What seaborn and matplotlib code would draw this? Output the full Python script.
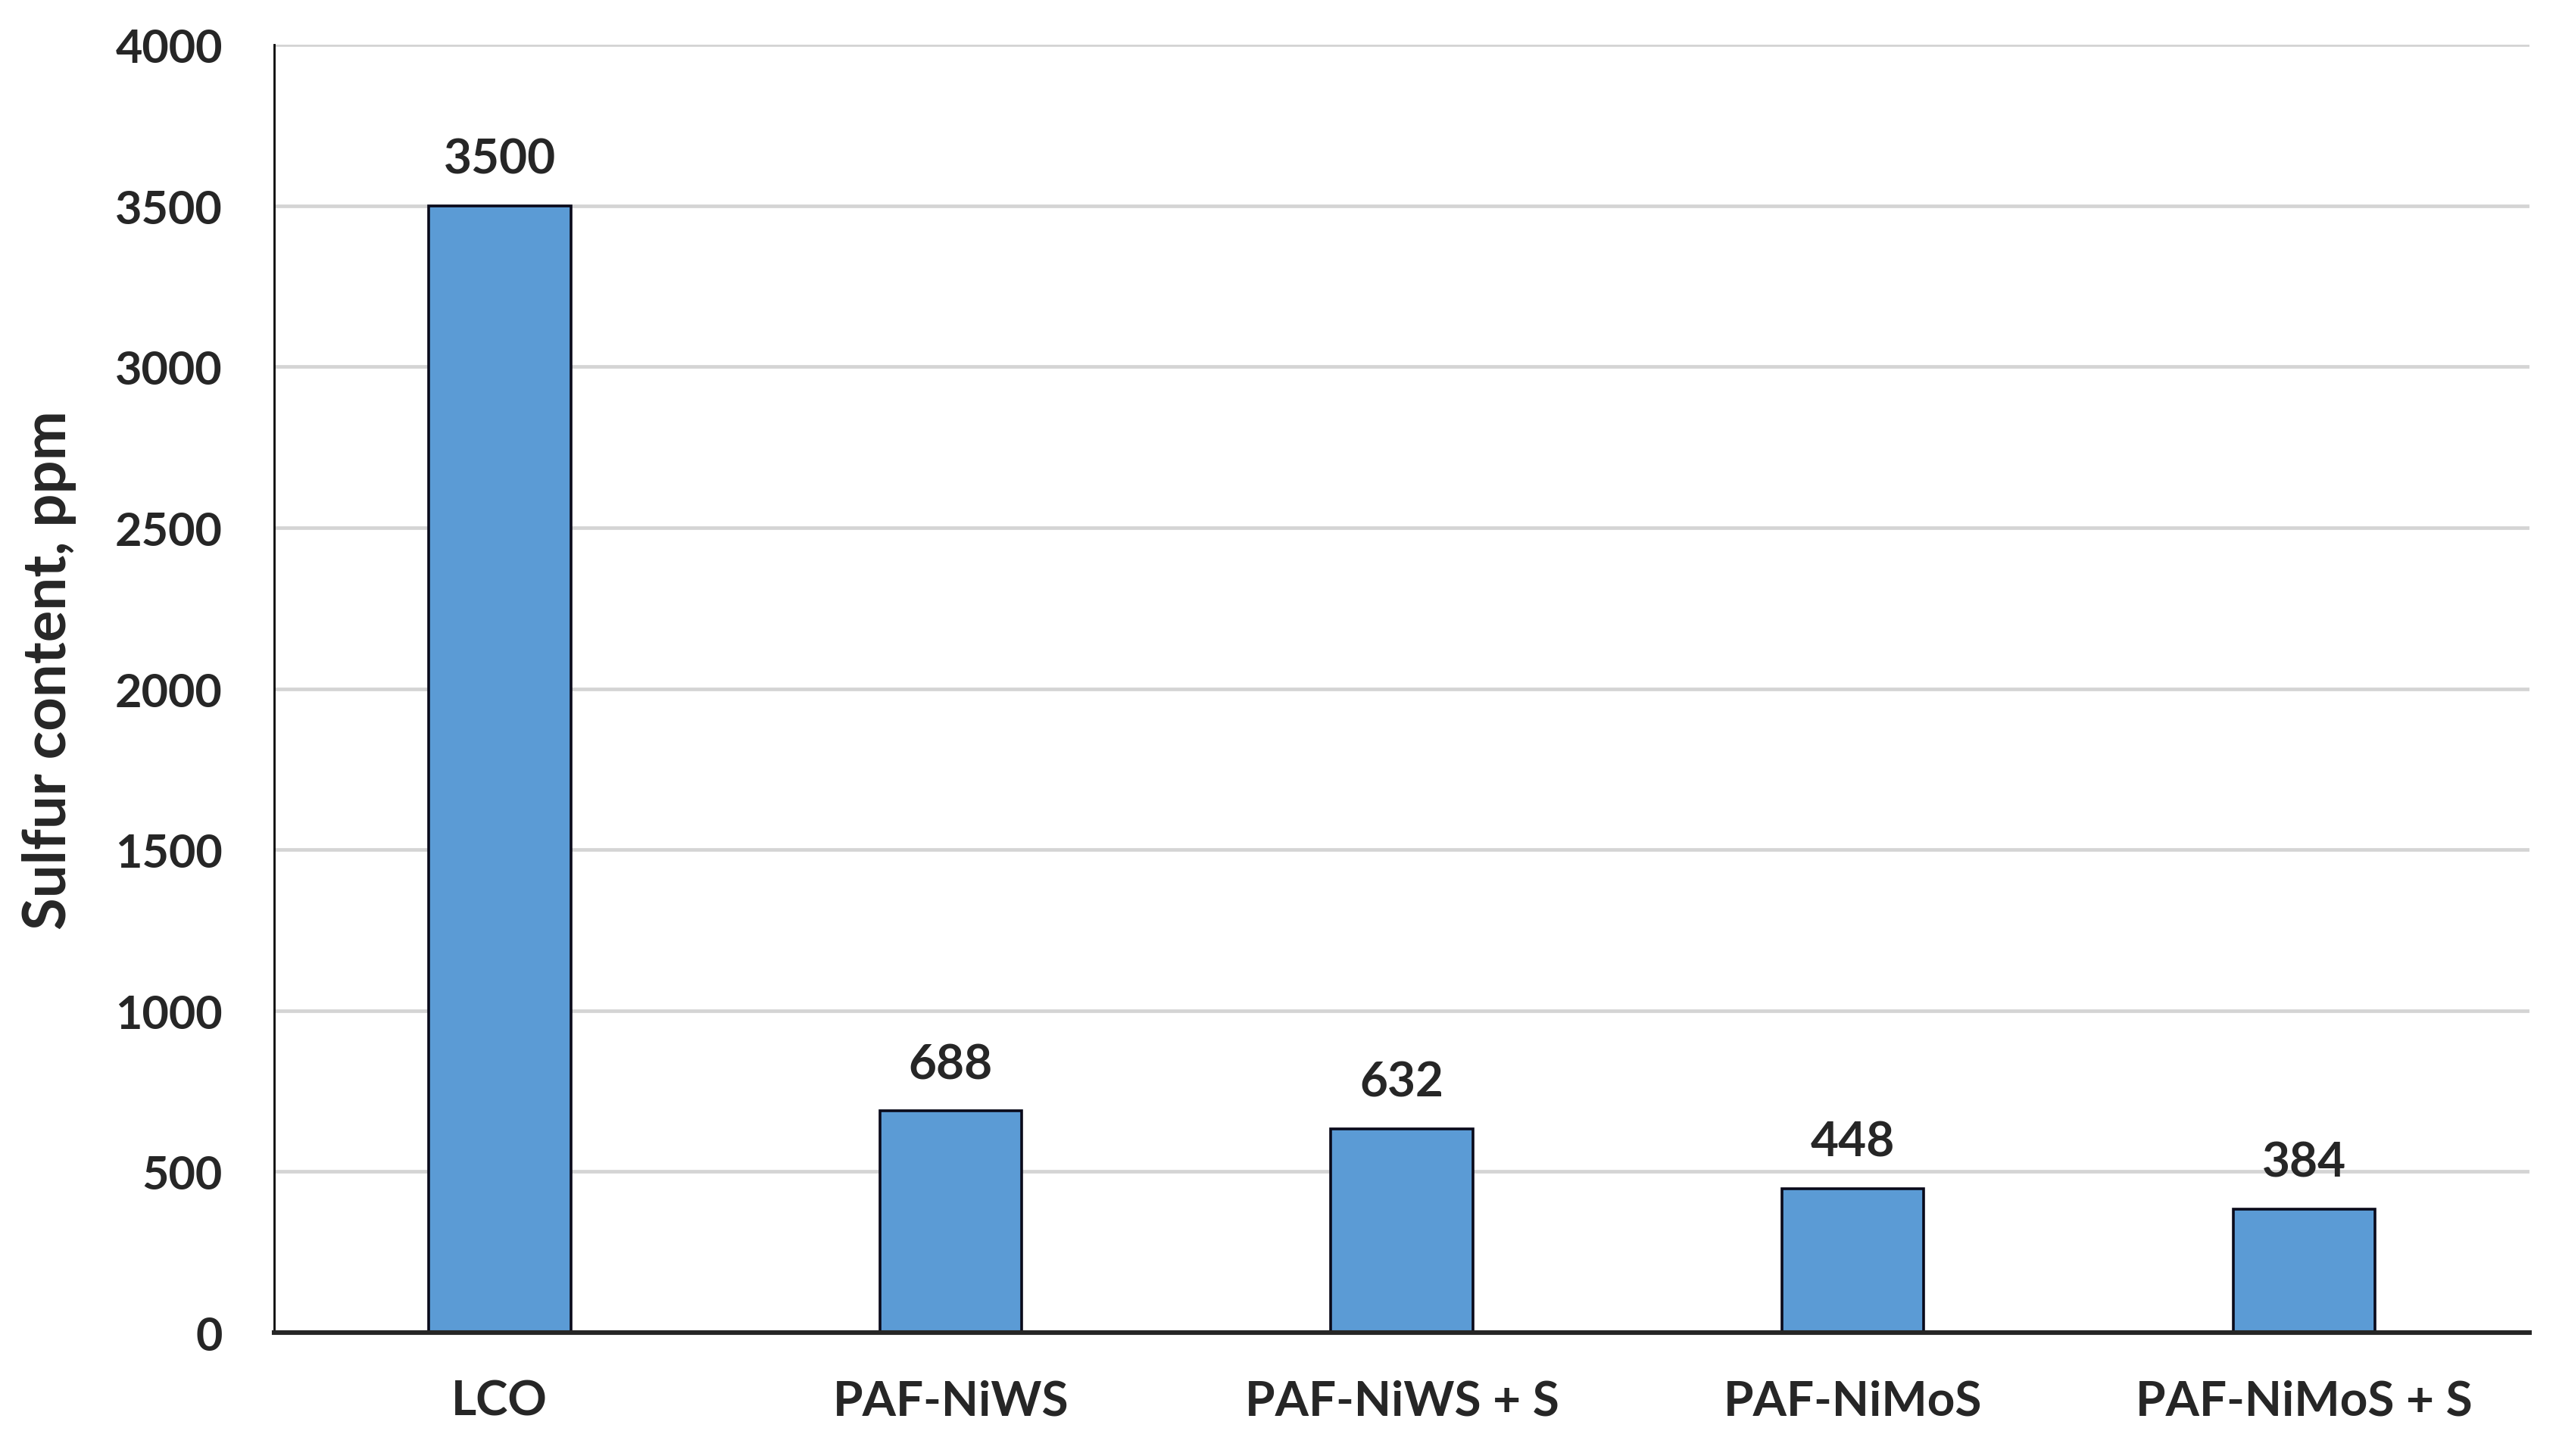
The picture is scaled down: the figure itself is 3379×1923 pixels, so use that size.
import matplotlib
matplotlib.use("Agg")
import matplotlib.pyplot as plt
import seaborn as sns
import pandas as pd
from matplotlib.ticker import FixedLocator

# data
categories = ['LCO', 'PAF-NiWS', 'PAF-NiWS + S', 'PAF-NiMoS', 'PAF-NiMoS + S']
sulfur_ppm = [3500, 688, 632, 448, 384]
y_ticks = [0, 500, 1000, 1500, 2000, 2500, 3000, 3500, 4000]

df = pd.DataFrame({'Sample': categories, 'Sulfur': sulfur_ppm})

sns.set_style("white")
plt.rcParams['font.family'] = ['Lato', 'DejaVu Sans']
plt.rcParams['font.weight'] = 'bold'

fig = plt.figure(figsize=(16.895, 9.62), dpi=200)
ax = fig.add_axes([0.1071, 0.0847, 0.8814, 0.8841])

sns.barplot(data=df, x='Sample', y='Sulfur', color='#5B9BD5',
            edgecolor='#0a0a1a', linewidth=1.3, width=0.315, saturation=1, ax=ax)

ax.bar_label(ax.containers[0], labels=[str(v) for v in sulfur_ppm],
             padding=12, fontsize=23, fontweight='bold')

ax.set_ylim(0, 4000)
ax.set_xlim(-0.5, 4.5)
ax.set_yticks(y_ticks)
ax.set_yticklabels([str(t) for t in y_ticks], fontsize=22, fontweight='bold')
ax.yaxis.grid(True, color='#d4d4d4', linewidth=1.7)
ax.set_axisbelow(True)

# x ticks between the categories, labels at the centres
ax.tick_params(axis='x', which='major', length=0, pad=22, labelsize=23)
ax.xaxis.set_minor_locator(FixedLocator([-0.5, 0.5, 1.5, 2.5, 3.5, 4.5]))
ax.tick_params(axis='x', which='minor', length=8, width=1.0, color='#404040', direction='out')
ax.tick_params(axis='y', length=7.5, width=1.4, color='black', direction='out', pad=17)
for lab in ax.get_xticklabels():
    lab.set_fontweight('bold')

ax.set_xlabel('')
ax.set_ylabel('Sulfur content, ppm', fontsize=28, fontweight='bold')
ax.yaxis.set_label_coords(-0.0876, 0.515)

sns.despine(ax=ax, top=True, right=True)
ax.spines['left'].set_color('black')
ax.spines['left'].set_linewidth(1.0)
ax.spines['bottom'].set_color('#262626')
ax.spines['bottom'].set_linewidth(2.2)

fig.savefig('out.png', dpi=200, facecolor='white')
